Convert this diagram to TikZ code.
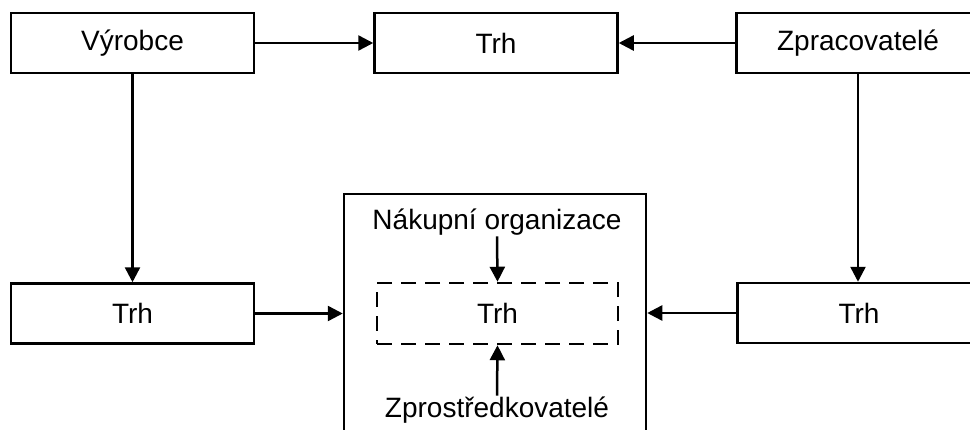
\documentclass[tikz,border=0pt]{standalone}
\usepackage{fontspec}
\setmainfont{Liberation Sans}
\usetikzlibrary{arrows.meta}
\begin{document}
\begin{tikzpicture}[x=1pt,y=-1pt,
  every node/.style={font=\fontsize{28}{33}\selectfont},
  box/.style={draw, line width=2.5pt, minimum width=243pt, minimum height=60pt, inner sep=0pt},
  dbox/.style={draw, line width=2.5pt, dash pattern=on 15pt off 9pt, minimum width=241pt, minimum height=61pt, inner sep=0pt},
  lbl/.style={inner sep=1pt},
  arr/.style={line width=2.5pt, -{Triangle[length=15pt,width=15pt]}}]
\useasboundingbox (0,0) rectangle (970,429);
\clip (0,0) rectangle (970,429);
\fill[white] (0,0) rectangle (970,429);
\node[box] (v) at (132.5,43) {Výrobce};
\node[box] (t) at (496,43) {Trh};
\node[box] (z) at (858,43) {Zpracovatelé};
\node[box] (lt) at (132.5,313.5) {Trh};
\node[box] (rt) at (859,313) {Trh};
\node[draw, line width=2.5pt, minimum width=302pt, minimum height=270pt, inner sep=0pt] (big) at (495,329) {};
\node[dbox] (d) at (497.5,313.5) {Trh};
\node[lbl] (nak) at (497,222) {Nákupní organizace};
\node[lbl] (zpr) at (497,410) {Zprostředkovatelé};
\draw[arr] (v.east) -- (t.west);
\draw[arr] (z.west) -- (t.east);
\draw[arr] (v.south) -- (lt.north);
\draw[arr] (z.south) -- (z.south |- rt.north);
\draw[arr] (lt.east) -- (lt.east -| big.west);
\draw[arr] (rt.west) -- (rt.west -| big.east);
\draw[arr] (nak.south) -- (d.north);
\draw[arr] (zpr.north) -- (d.south);
\end{tikzpicture}
\end{document}
